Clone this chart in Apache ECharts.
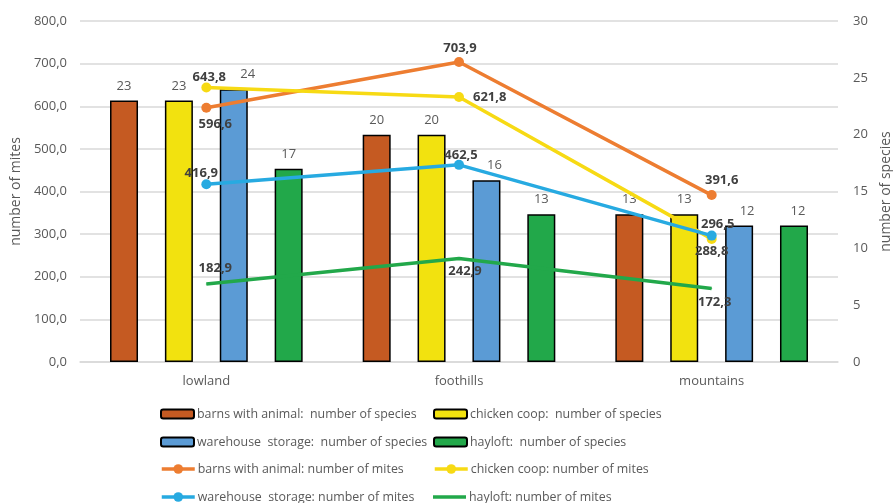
<!DOCTYPE html>
<html>
<head>
<meta charset="utf-8">
<script src="https://cdn.jsdelivr.net/npm/echarts@6/dist/echarts.min.js"></script>
<style>
  html, body { margin: 0; padding: 0; background: #fff; }
  #chart { width: 893px; height: 503px; }
</style>
</head>
<body>
<div id="chart"></div>
<script>
// Habitats along the altitude gradient
const categories = ['lowland', 'foothills', 'mountains'];

// Number of species (right axis)
const barnsSpecies = [23, 20, 13];
const chickenSpecies = [23, 20, 13];
const warehouseSpecies = [24, 16, 12];
const hayloftSpecies = [17, 13, 12];

// Number of mites (left axis)
const barnsMites = [596.6, 703.9, 391.6];
const chickenMites = [643.8, 621.8, 288.8];
const warehouseMites = [416.9, 462.5, 296.5];
const hayloftMites = [182.9, 242.9, 172.3];

// Axis ticks
const mitesTicks = { min: 0, max: 800, interval: 100 };
const speciesTicks = { min: 0, max: 30, interval: 5 };

const FONT = 'Open Sans';
const GREY = '#595959';

const fmtComma = v => Number(v).toFixed(1).replace('.', ',');

// per-point label placement for the mite lines
const labelPlace = {
  barns:     [{ position: 'bottom', offset: [9, 5] }, { position: 'top', offset: [1, -2] }, { position: 'top', offset: [10, -3] }],
  chicken:   [{ position: 'top', offset: [3, 1] }, { position: 'right', offset: [9, 0] }, { position: 'bottom', offset: [0, 1] }],
  warehouse: [{ position: 'top', offset: [-5, 1] }, { position: 'top', offset: [2, 2] }, { position: 'top', offset: [6, 0] }],
  hayloft:   [{ position: 'top', offset: [9, -9] }, { position: 'bottom', offset: [6, 6] }, { position: 'bottom', offset: [3, 7] }]
};

// bar labels nudged sideways where they would collide with line labels
const barLabelShift = {
  warehouse: [[14, 0], [8, 0], [8, 0]],
  hayloft: [[0, 0], [0, 0], [4, 0]]
};

function lineData(values, places) {
  return values.map((v, i) => ({
    value: v,
    label: Object.assign({ distance: 0 }, places[i])
  }));
}

function barData(values, shifts) {
  if (!shifts) return values;
  return values.map((v, i) => ({ value: v, label: { offset: shifts[i] } }));
}

function barSeries(name, values, color, shifts) {
  return {
    name: name,
    type: 'bar',
    yAxisIndex: 1,
    data: barData(values, shifts),
    barWidth: 28,
    barGap: '96%',
    barCategoryGap: '24%',
    itemStyle: { color: color, borderColor: '#000', borderWidth: 1.5 },
    label: {
      show: true, position: 'top', distance: 8,
      color: GREY, fontFamily: FONT, fontSize: 13
    },
    z: 2
  };
}

function lineSeries(name, values, color, places, marker) {
  return {
    name: name,
    type: 'line',
    yAxisIndex: 0,
    data: lineData(values, places),
    symbol: 'circle',
    symbolSize: marker ? 10 : 1,
    lineStyle: { color: color, width: 3.5 },
    itemStyle: { color: color },
    label: {
      show: true,
      color: '#404040', fontFamily: FONT, fontSize: 13, fontWeight: 'bold',
      formatter: p => fmtComma(p.value)
    },
    z: 5
  };
}

const names = {
  bs: 'barns with animal:  number of species',
  cs: 'chicken coop:  number of species',
  ws: 'warehouse  storage:  number of species',
  hs: 'hayloft:  number of species',
  bm: 'barns with animal: number of mites',
  cm: 'chicken coop: number of mites',
  wm: 'warehouse  storage: number of mites',
  hm: 'hayloft: number of mites'
};

const lineNames = [names.bm, names.cm, names.wm];

// legend laid out as a 2-column grid, one entry per cell
const legendCells = [
  [names.bs, 160, 414], [names.cs, 433, 414],
  [names.ws, 160, 442], [names.hs, 433, 442],
  [names.bm, 160, 469], [names.cm, 433, 469],
  [names.wm, 160, 497], [names.hm, 433, 497]
];

const legends = legendCells.map(([name, x, cy]) => {
  const flatLine = name === names.hm;
  const marked = lineNames.indexOf(name) >= 0;
  return {
    left: x,
    top: cy - 8,
    padding: 0,
    itemWidth: 33,
    itemHeight: flatLine ? 3.5 : (marked ? 12 : 9),
    selectedMode: false,
    lineStyle: { width: 3.5 },
    data: [flatLine ? { name: name, icon: 'rect' } : name],
    textStyle: { color: GREY, fontFamily: FONT, fontSize: 12.4, lineHeight: 16, padding: [0, 0, 0, -2] }
  };
});

const chart = echarts.init(document.getElementById('chart'), null, { renderer: 'canvas' });
chart.setOption({
  animation: false,
  backgroundColor: '#fff',
  textStyle: { fontFamily: FONT },
  grid: { left: 80, right: 55, top: 21, bottom: 141, containLabel: false, outerBoundsMode: 'none' },
  legend: legends,
  xAxis: {
    type: 'category',
    data: categories,
    axisLine: { show: true, lineStyle: { color: '#d9d9d9', width: 1.5 } },
    axisTick: { show: false },
    axisLabel: { color: GREY, fontFamily: FONT, fontSize: 13, margin: 13 }
  },
  yAxis: [
    {
      type: 'value',
      min: mitesTicks.min, max: mitesTicks.max, interval: mitesTicks.interval,
      name: 'number of mites',
      nameLocation: 'middle',
      nameGap: 55,
      nameTextStyle: { color: GREY, fontFamily: FONT, fontSize: 14 },
      axisLine: { show: false },
      axisTick: { show: false },
      axisLabel: { color: GREY, fontFamily: FONT, fontSize: 13, margin: 13, formatter: v => fmtComma(v) },
      splitLine: { show: true, lineStyle: { color: '#d9d9d9', width: 1.5 } }
    },
    {
      type: 'value',
      position: 'right',
      min: speciesTicks.min, max: speciesTicks.max, interval: speciesTicks.interval,
      name: 'number of species',
      nameLocation: 'middle',
      nameGap: 38,
      nameTextStyle: { color: GREY, fontFamily: FONT, fontSize: 14 },
      axisLine: { show: false },
      axisTick: { show: false },
      axisLabel: { color: GREY, fontFamily: FONT, fontSize: 13, margin: 15 },
      splitLine: { show: false }
    }
  ],
  series: [
    barSeries(names.bs, barnsSpecies, '#C55A22'),
    barSeries(names.cs, chickenSpecies, '#F2E20F'),
    barSeries(names.ws, warehouseSpecies, '#5B9BD5', barLabelShift.warehouse),
    barSeries(names.hs, hayloftSpecies, '#22A84A', barLabelShift.hayloft),
    lineSeries(names.bm, barnsMites, '#ED7D31', labelPlace.barns, true),
    lineSeries(names.cm, chickenMites, '#F7DA14', labelPlace.chicken, true),
    lineSeries(names.wm, warehouseMites, '#27AAE1', labelPlace.warehouse, true),
    lineSeries(names.hm, hayloftMites, '#22A84A', labelPlace.hayloft, false)
  ]
});
</script>
</body>
</html>
